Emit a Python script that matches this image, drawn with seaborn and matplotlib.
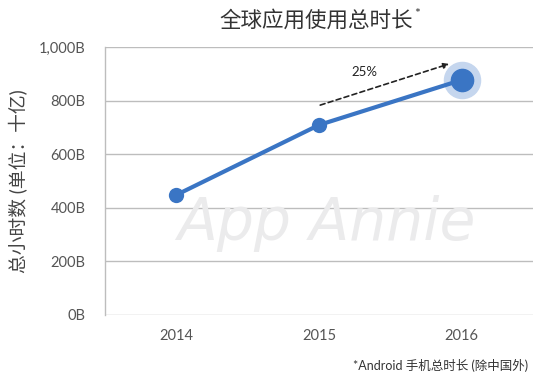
import matplotlib
matplotlib.use("Agg")
import matplotlib.pyplot as plt
import seaborn as sns
import pandas as pd

years = ["2014", "2015", "2016"]
hours = [448, 709, 877]
yticks = [0, 200, 400, 600, 800, 1000]
ytick_labels = ["0B", "200B", "400B", "600B", "800B", "1,000B"]
growth_label = "25%"

sns.set_theme(style="white")
plt.rcParams['font.family'] = ['Lato', 'Noto Sans CJK SC', 'DejaVu Sans']

df = pd.DataFrame({"year": years, "hours": hours})
fig = plt.figure(figsize=(5.56, 3.78), dpi=100)
ax = fig.add_axes([105/556, 1-315/378, (533-105)/556, (315-47)/378])

blue = "#3a75c4"
ax.set_ylim(0, 1000)
ax.set_xlim(-0.5, 2.5)
for t in yticks:
    ax.axhline(t, color="#bdbdbd", lw=1, zorder=0)

ax.text(1.05, 340, "App Annie", fontsize=42, style="italic", color="#ebebec",
        ha="center", va="center", family="DejaVu Sans", zorder=0.5)

sns.lineplot(data=df, x="year", y="hours", ax=ax, color=blue, lw=3, marker="o",
             markersize=11, markeredgewidth=0, sort=False, zorder=3)
ax.plot([2], [hours[2]], "o", ms=26, color="#c5d6ee", zorder=2.5)
ax.plot([2], [hours[2]], "o", ms=16, color=blue, zorder=4)

ax.annotate("", xy=(1.93, 940), xytext=(0.99, 780),
            arrowprops=dict(arrowstyle="-|>", linestyle=(0, (3, 2)), color="#222222",
                            lw=1.2, mutation_scale=8))
ax.text(1.32, 907, growth_label, fontsize=9.5, color="#222222", ha="center", va="center")

ax.set_yticks(yticks)
ax.set_yticklabels(ytick_labels)
ax.tick_params(axis="both", labelsize=10.5, colors="#555555", length=0, pad=10)
ax.tick_params(axis="y", pad=14)
ax.set_xlabel("")
ax.set_ylabel("总小时数 (单位：十亿)", fontsize=13.5, color="#444444", labelpad=8)
for s in ["top", "right", "bottom"]:
    ax.spines[s].set_visible(False)
ax.spines["left"].set_color("#bdbdbd")
ax.spines["left"].set_linewidth(1)

fig.text(413/556, 1-20/378, "全球应用使用总时长", fontsize=15.5, color="#333333",
         ha="right", va="center")
fig.text(414/556, 1-14/378, "*", fontsize=10, color="#333333", ha="left", va="center")
fig.text(528/556, 1-365/378, "*Android 手机总时长 (除中国外)", fontsize=9,
         color="#333333", ha="right", va="center")

fig.savefig("out.png", dpi=100)
